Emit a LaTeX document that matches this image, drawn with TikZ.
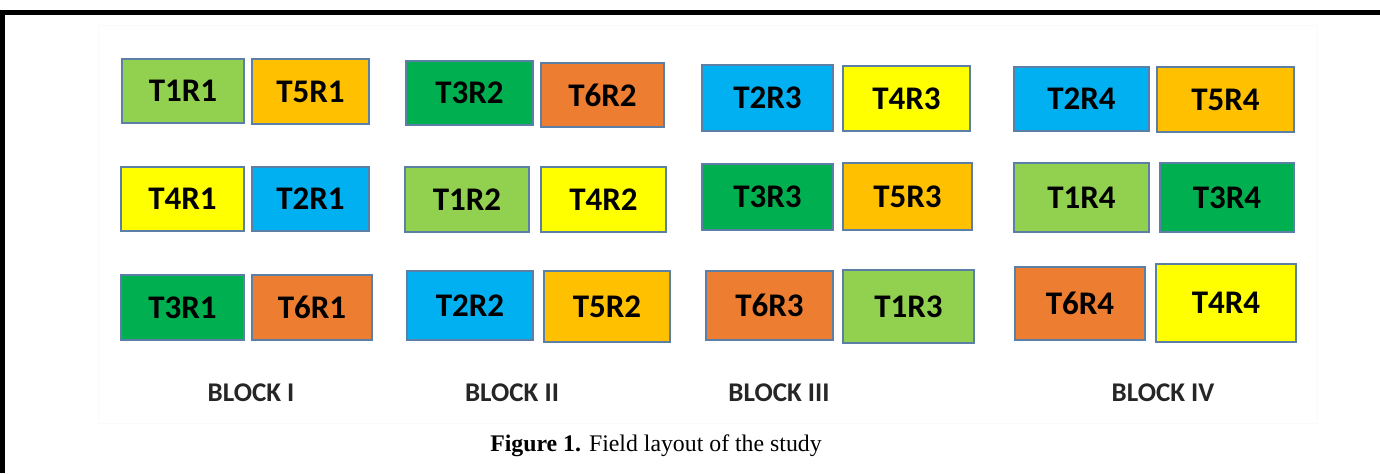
\documentclass[tikz,border=0pt]{standalone}
\usepackage{fontspec}
\setmainfont{Liberation Serif}
\newfontfamily\labelfont{Carlito}
\definecolor{lgreen}{HTML}{92D050}
\definecolor{dgreen}{HTML}{00B050}
\definecolor{amber}{HTML}{FFC000}
\definecolor{lemon}{HTML}{FFFF00}
\definecolor{sky}{HTML}{00B0F0}
\definecolor{rust}{HTML}{ED7D31}
\definecolor{edge}{HTML}{5B7FA6}
\tikzset{
  plotbox/.style={draw=edge, line width=0.75pt, inner sep=0pt,
    font=\labelfont\bfseries\fontsize{16.5}{18}\selectfont},
  blocklabel/.style={inner sep=0pt, anchor=base,
    font=\labelfont\bfseries\fontsize{13.5}{15}\selectfont, text=black!85},
  caption/.style={inner sep=0pt, anchor=base, font=\fontsize{11.9}{14}\selectfont}
}
% \plot{name}{cx}{cy}{width}{height}{colour}{label}
\newcommand\plot[7]{%
  \node[plotbox, fill=#6, minimum width=#4*0.5pt, minimum height=#5*0.5pt] (#1) at (#2,#3) {#7};}
\begin{document}
\begin{tikzpicture}[x=0.5pt, y=-0.5pt]
\useasboundingbox (0,0) rectangle (1380,473);
% frame rules along the top and left
\fill[black] (0,10) rectangle (1380,15);
\fill[black] (0,10) rectangle (5,473);
% faint panel behind the layout
\draw[black!2, line width=0.4pt] (98,25) rectangle (1317,423);

% Block I
\plot{t1r1}{183}{91}{122}{64}{lgreen}{T1R1}
\plot{t5r1}{310.5}{91.5}{117}{65}{amber}{T5R1}
\plot{t4r1}{182.5}{199}{123}{64}{lemon}{T4R1}
\plot{t2r1}{310.5}{199}{117}{64}{sky}{T2R1}
\plot{t3r1}{182.5}{307.5}{123}{65}{dgreen}{T3R1}
\plot{t6r1}{312}{307.5}{120}{65}{rust}{T6R1}
% Block II
\plot{t3r2}{469.5}{93}{127}{64}{dgreen}{T3R2}
\plot{t6r2}{602.5}{95}{123}{64}{rust}{T6R2}
\plot{t1r2}{467}{199.5}{124}{65}{lgreen}{T1R2}
\plot{t4r2}{603.5}{199.5}{125}{65}{lemon}{T4R2}
\plot{t2r2}{470}{305.5}{126}{69}{sky}{T2R2}
\plot{t5r2}{607}{306.5}{126}{71}{amber}{T5R2}
% Block III
\plot{t2r3}{767.5}{98}{131}{66}{sky}{T2R3}
\plot{t4r3}{906.5}{98.5}{127}{65}{lemon}{T4R3}
\plot{t3r3}{767.5}{197}{131}{66}{dgreen}{T3R3}
\plot{t5r3}{907.5}{196.5}{129}{67}{amber}{T5R3}
\plot{t6r3}{769.5}{305.5}{127}{69}{rust}{T6R3}
\plot{t1r3}{908.5}{306.5}{131}{73}{lgreen}{T1R3}
% Block IV
\plot{t2r4}{1081.5}{99}{135}{64}{sky}{T2R4}
\plot{t5r4}{1225.5}{99.5}{137}{65}{amber}{T5R4}
\plot{t1r4}{1081.5}{197.5}{135}{69}{lgreen}{T1R4}
\plot{t3r4}{1227}{197.5}{134}{69}{dgreen}{T3R4}
\plot{t6r4}{1080}{303.5}{130}{73}{rust}{T6R4}
\plot{t4r4}{1226}{303}{140}{78}{lemon}{T4R4}

% block names
\node[blocklabel] (bI)   at (251,401)  {BLOCK I};
\node[blocklabel] (bII)  at (512,401)  {BLOCK II};
\node[blocklabel] (bIII) at (779,401)  {BLOCK III};
\node[blocklabel] (bIV)  at (1163,401) {BLOCK IV};

% caption
\node[caption] (cap) at (656,451) {\textbf{Figure 1.} Field layout of the study};
\end{tikzpicture}
\end{document}
